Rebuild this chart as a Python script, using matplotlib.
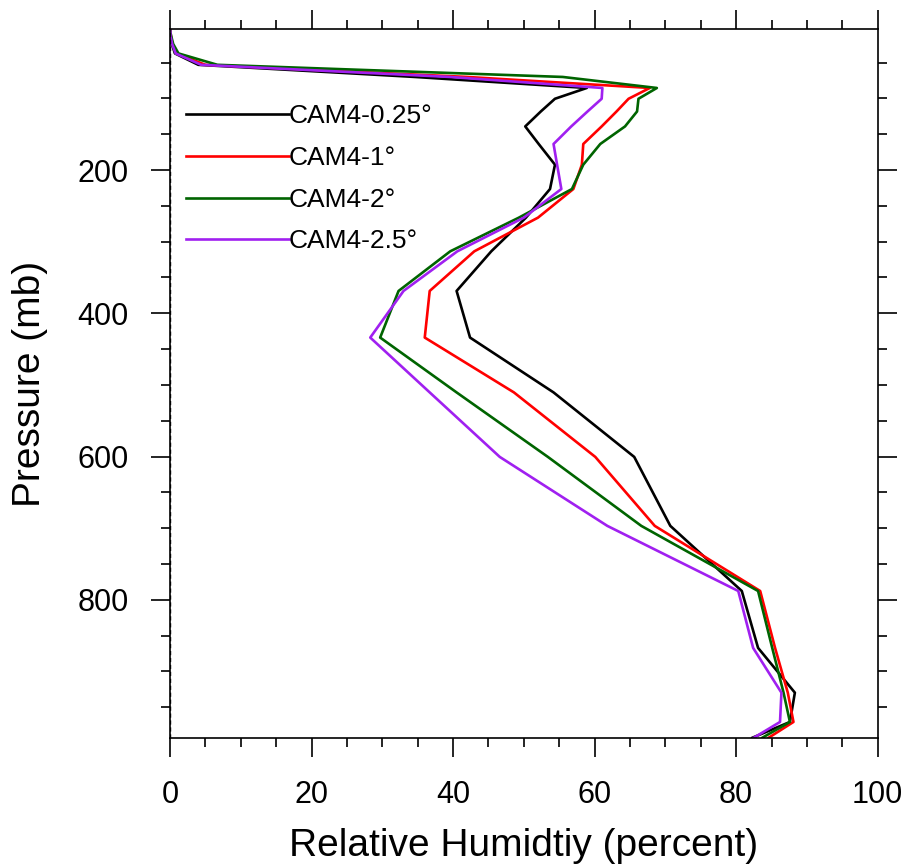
import matplotlib
matplotlib.use("Agg")
import matplotlib.pyplot as plt
from matplotlib.ticker import MultipleLocator

plt.rcParams['font.family'] = ['Liberation Sans', 'DejaVu Sans']

# CAM4 hybrid mid-level pressures (mb)
lev = [3.54, 7.39, 13.97, 23.94, 37.23, 53.11, 70.06, 85.44, 100.51, 118.25,
       139.12, 163.66, 192.54, 226.51, 266.48, 313.50, 368.82, 433.90, 510.46,
       600.52, 696.80, 787.70, 867.16, 929.65, 970.55, 992.56]

# relative humidity (percent)
rh_025 = [0.0, 0.05, 0.1, 0.25, 0.7, 4.0, 34.6, 58.9, 54.4, 52.4,
          50.2, 52.1, 54.4, 53.7, 50.3, 45.4, 40.5, 42.4, 54.2,
          65.6, 70.7, 80.8, 83.1, 88.3, 87.6, 82.3]
rh_1 = [0.0, 0.05, 0.15, 0.35, 0.9, 5.0, 42.0, 67.8, 64.8, 63.1,
        61.0, 58.4, 58.2, 57.0, 52.0, 43.0, 36.7, 36.0, 48.6,
        60.1, 68.5, 83.4, 85.5, 87.3, 88.1, 84.6]
rh_2 = [0.0, 0.05, 0.2, 0.45, 1.2, 6.7, 55.5, 68.8, 66.2, 66.0,
        64.3, 60.8, 58.4, 56.8, 49.3, 39.6, 32.3, 29.7, 40.5,
        53.4, 66.6, 83.1, 85.1, 86.7, 87.6, 83.7]
rh_25 = [0.0, 0.05, 0.1, 0.3, 0.8, 4.4, 39.6, 61.1, 61.0, 59.0,
         56.7, 54.2, 54.7, 55.3, 50.0, 40.6, 33.0, 28.3, 36.7,
         46.6, 61.8, 80.3, 82.4, 86.4, 86.2, 82.5]

labels = ['CAM4-0.25\u00b0', 'CAM4-1\u00b0', 'CAM4-2\u00b0', 'CAM4-2.5\u00b0']
colors = ['black', 'red', '#006400', '#a020f0']

fig = plt.figure(figsize=(9.08, 8.67), dpi=100)
ax = fig.add_axes([0.1872, 0.1491, 0.7794, 0.8171])

for rh, lab, c in zip([rh_025, rh_1, rh_2, rh_25], labels, colors):
    ax.plot(rh, lev, color=c, lw=1.9, label=lab)

ax.axvline(0, color='black', ls='--', lw=1.0, dashes=(3, 2))

ax.set_xlim(0, 100)
ax.set_ylim(992.56, 3.54)

ax.xaxis.set_major_locator(MultipleLocator(20))
ax.xaxis.set_minor_locator(MultipleLocator(5))
ax.yaxis.set_major_locator(MultipleLocator(200))
ax.yaxis.set_minor_locator(MultipleLocator(50))

ax.tick_params(which='both', direction='out', top=True, right=True, width=1.2)
ax.tick_params(which='major', length=13.7, labelsize=22, pad=16)
ax.tick_params(axis='x', which='major', pad=17)
ax.tick_params(which='minor', length=6.5)
for s in ax.spines.values():
    s.set_linewidth(1.2)

ax.set_xlabel('Relative Humidtiy (percent)', fontsize=28, labelpad=13)
ax.set_ylabel('Pressure (mb)', fontsize=28, labelpad=21)

ax.legend(loc='upper left', bbox_to_anchor=(0.0226, 0.894), frameon=False,
          fontsize=19, handlelength=3.9, handletextpad=0.0, labelspacing=0.67,
          borderpad=0, borderaxespad=0)

fig.savefig('out.png', dpi=100)
